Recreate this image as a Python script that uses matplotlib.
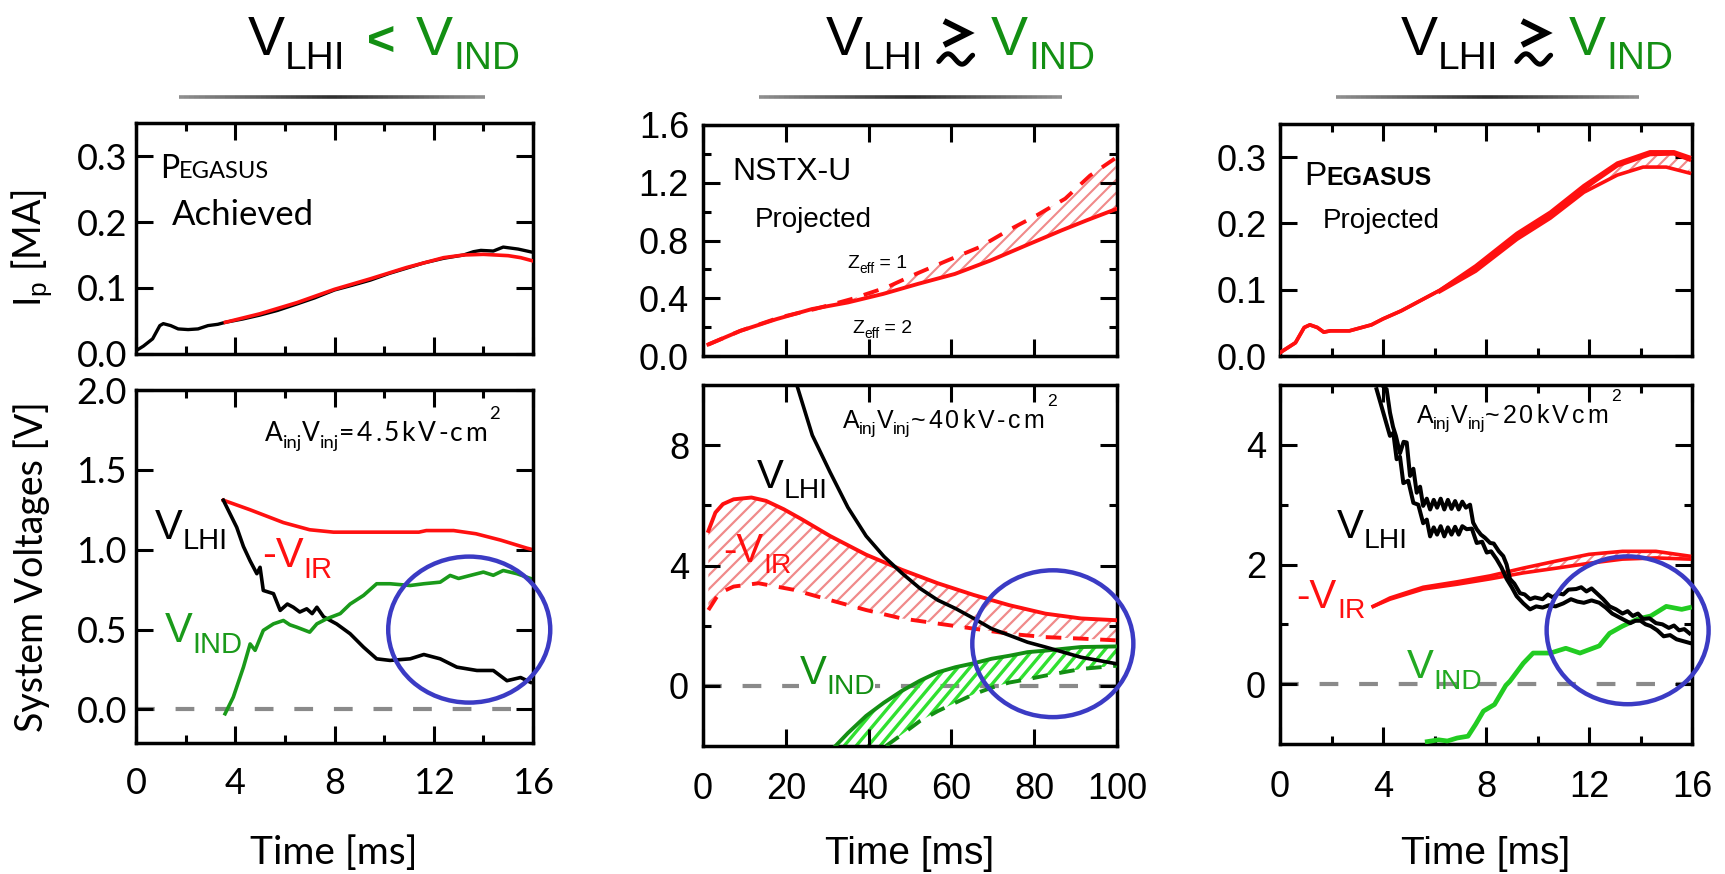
import numpy as np
import matplotlib
matplotlib.use("Agg")
import matplotlib.pyplot as plt
from matplotlib.patches import Ellipse, Polygon
from matplotlib.collections import LineCollection
from matplotlib.lines import Line2D
from matplotlib.transforms import IdentityTransform

plt.rcParams["font.family"] = ["Liberation Sans", "DejaVu Sans"]
plt.rcParams["mathtext.fontset"] = "custom"
plt.rcParams["mathtext.rm"] = "Liberation Sans"
plt.rcParams["mathtext.it"] = "Liberation Sans:italic"
plt.rcParams["mathtext.bf"] = "Liberation Sans:bold"

W, H = 1725, 874
PT = 100 / 72  # pixels per point

# ---------------- Panel 1: PEGASUS achieved ----------------
p1_ip_t = [0.0, 0.3, 0.67, 0.96, 1.1, 1.4, 1.7, 2.1, 2.5, 2.9, 3.3, 3.6, 4.3, 5.0, 5.7,
           6.5, 7.2, 8.0, 8.7, 9.45, 10.2, 10.9, 11.6, 12.4, 13.2, 13.6, 13.9, 14.4,
           14.8, 15.4, 16.0]
p1_ip_exp = [0.005, 0.012, 0.023, 0.043, 0.046, 0.043, 0.038, 0.037, 0.038, 0.043, 0.045,
             0.048, 0.053, 0.059, 0.066, 0.076, 0.085, 0.097, 0.104, 0.112, 0.122, 0.130,
             0.138, 0.145, 0.150, 0.155, 0.157, 0.156, 0.162, 0.159, 0.154]
p1_ip_mod_t = [3.6, 5.0, 6.5, 8.0, 9.45, 10.9, 12.4, 13.2, 14.0, 15.0, 15.5, 16.0]
p1_ip_mod = [0.048, 0.061, 0.078, 0.098, 0.114, 0.131, 0.146, 0.150, 0.151, 0.149, 0.146, 0.141]

p1_vir_t = [3.52, 4.6, 5.94, 7.0, 7.96, 9.97, 11.4, 11.7, 12.8, 13.7, 14.7, 15.75, 16.0]
p1_vir = [1.31, 1.25, 1.17, 1.125, 1.11, 1.11, 1.11, 1.12, 1.12, 1.10, 1.06, 1.01, 1.00]

p1_vlhi_t = [3.52, 3.79, 4.06, 4.33, 4.6, 4.87, 5.0, 5.13, 5.54, 5.81, 6.1, 6.34, 6.6,
             6.88, 7.1, 7.29, 7.56, 8.09, 8.63, 9.17, 9.7, 10.24, 11.05, 11.6, 12.26,
             12.93, 13.74, 14.4, 14.95, 15.5, 15.9]
p1_vlhi = [1.31, 1.225, 1.14, 1.02, 0.93, 0.85, 0.89, 0.745, 0.725, 0.62, 0.66, 0.64, 0.61,
           0.63, 0.60, 0.64, 0.58, 0.535, 0.474, 0.39, 0.317, 0.307, 0.317, 0.344, 0.317,
           0.265, 0.244, 0.244, 0.18, 0.20, 0.17]

p1_vind_t = [3.59, 3.92, 4.33, 4.6, 4.8, 5.13, 5.54, 5.94, 6.2, 6.48, 7.0, 7.29, 7.69,
             8.23, 8.63, 9.17, 9.7, 10.24, 11.05, 11.6, 12.26, 12.66, 13.0, 13.47, 14.0,
             14.4, 14.8, 15.35, 15.9]
p1_vind = [-0.027, 0.077, 0.265, 0.41, 0.37, 0.495, 0.536, 0.557, 0.53, 0.515, 0.484,
           0.536, 0.568, 0.60, 0.66, 0.714, 0.787, 0.787, 0.776, 0.787, 0.797, 0.839,
           0.82, 0.839, 0.86, 0.84, 0.87, 0.85, 0.82]

# ---------------- Panel 2: NSTX-U projected ----------------
p2_ip_z2_t = [1.3, 9, 17.7, 26.3, 35, 43.5, 52, 60.8, 69.4, 78, 86.6, 92.7, 100]
p2_ip_z2 = [0.08, 0.174, 0.255, 0.325, 0.371, 0.43, 0.50, 0.568, 0.661, 0.766, 0.87, 0.94, 1.02]
p2_ip_z1_t = [1.3, 9, 18.5, 27, 35.8, 44.4, 51, 59, 66.8, 73.7, 80.6, 87.5, 93.5, 99.6]
p2_ip_z1 = [0.08, 0.174, 0.267, 0.325, 0.394, 0.476, 0.563, 0.661, 0.754, 0.87, 0.974,
            1.09, 1.25, 1.37]

p2_vlhi_t = [22.5, 26.4, 30.7, 35, 39.4, 43.7, 48, 52.4, 56.7, 61, 65.4, 69.7, 74, 78.4,
             82.7, 87, 91.3, 95.7, 100]
p2_vlhi = [10.07, 8.33, 7.1, 5.93, 4.98, 4.3, 3.75, 3.24, 2.85, 2.57, 2.24, 1.9, 1.68,
           1.45, 1.29, 1.12, 0.95, 0.84, 0.73]
p2_vir_hi_t = [1.3, 3, 4.8, 7.4, 11.7, 15.2, 19.5, 23.8, 30.7, 39.4, 48, 56.7, 65.4, 74,
               82.7, 91.3, 100]
p2_vir_hi = [5.15, 5.76, 6.04, 6.2, 6.26, 6.15, 5.87, 5.54, 4.98, 4.36, 3.86, 3.41, 3.02,
             2.68, 2.4, 2.24, 2.18]
p2_vir_lo_t = [1.3, 3.9, 7.4, 13.4, 22, 30.7, 39.4, 48, 56.7, 65.4, 74, 82.7, 91.3, 100]
p2_vir_lo = [2.52, 3.08, 3.3, 3.41, 3.19, 2.85, 2.52, 2.24, 2.07, 1.9, 1.73, 1.62, 1.57, 1.51]
p2_vind_hi_t = [32, 35, 39.4, 43.7, 48, 52.4, 56.7, 61, 65.4, 69.7, 74, 78.4, 82.7, 91.3, 100]
p2_vind_hi = [-2.0, -1.57, -1.0, -0.56, -0.17, 0.17, 0.45, 0.62, 0.75, 0.9, 1.0, 1.12,
              1.17, 1.29, 1.31]
p2_vind_lo_t = [44.2, 48, 52.4, 56.7, 61, 65.4, 69.7, 74, 78.4, 82.7, 87, 91.3, 100]
p2_vind_lo = [-2.0, -1.62, -1.17, -0.84, -0.56, -0.28, -0.06, 0.11, 0.22, 0.34, 0.45,
              0.56, 0.67]

# ---------------- Panel 3: PEGASUS projected ----------------
p3_ip_t = [0, 0.6, 0.94, 1.16, 1.45, 1.7, 1.96, 2.7, 3.55, 4.0, 4.7, 6.2, 7.6, 9.2,
           10.5, 11.8, 13.1, 14.37, 15.3, 15.9]
p3_ip_a = [0.005, 0.02, 0.043, 0.047, 0.043, 0.036, 0.038, 0.038, 0.047, 0.056, 0.068,
           0.099, 0.136, 0.185, 0.217, 0.257, 0.291, 0.308, 0.308, 0.300]
p3_ip_b = [0.005, 0.02, 0.043, 0.047, 0.043, 0.036, 0.038, 0.038, 0.047, 0.056, 0.068,
           0.099, 0.133, 0.181, 0.212, 0.252, 0.287, 0.304, 0.305, 0.296]
p3_ip_c_t = [6.2, 7.6, 9.2, 10.5, 11.8, 13.1, 14.1, 15.0, 15.9]
p3_ip_c = [0.097, 0.128, 0.176, 0.208, 0.247, 0.273, 0.285, 0.285, 0.276]

p3_vlhi_a_t = [3.95, 4.14, 4.27, 4.39, 4.5, 4.66, 4.8, 4.92, 5.05, 5.18, 5.31, 5.44, 5.56,
               5.7, 5.83, 5.97, 6.1, 6.24, 6.38, 6.52, 6.66, 6.8, 6.94, 7.08, 7.22, 7.38,
               7.5, 7.64, 7.8, 7.95, 8.16, 8.3, 8.5, 8.67, 8.8, 8.93, 9.1, 9.32, 9.5,
               9.71, 9.9, 10.2, 10.4, 10.6, 10.8, 11.0, 11.2, 11.5, 11.7, 11.9, 12.1,
               12.3, 12.55, 12.8, 13.05, 13.3, 13.5, 13.7, 13.9, 14.1, 14.35, 14.6,
               14.85, 15.1, 15.3, 15.5, 15.7, 15.9]
p3_vlhi_a = [5.0, 4.93, 4.54, 4.3, 4.15, 3.86, 4.05, 4.04, 3.48, 3.6, 3.2, 3.3, 2.98, 3.1,
             2.92, 3.08, 2.95, 3.1, 2.92, 3.08, 2.93, 3.06, 2.92, 3.05, 2.95, 3.0, 2.7,
             2.59, 2.5, 2.45, 2.36, 2.35, 2.22, 2.14, 2.0, 1.76, 1.68, 1.52, 1.5, 1.42,
             1.45, 1.42, 1.5, 1.45, 1.52, 1.5, 1.58, 1.59, 1.62, 1.55, 1.6, 1.52, 1.42,
             1.3, 1.25, 1.18, 1.22, 1.14, 1.18, 1.09, 1.1, 1.02, 1.0, 0.94, 0.98, 0.9,
             0.92, 0.85]
p3_vlhi_b_t = [3.75, 4.01, 4.27, 4.4, 4.53, 4.66, 4.79, 4.98, 5.18, 5.37, 5.56, 5.7, 5.83,
               5.97, 6.1, 6.24, 6.38, 6.52, 6.66, 6.8, 6.94, 7.08, 7.25, 7.45, 7.64,
               7.85, 8.03, 8.2, 8.41, 8.6, 8.8, 9.0, 9.19, 9.45, 9.71, 9.95, 10.2, 10.45,
               10.7, 11.0, 11.3, 11.55, 11.8, 12.1, 12.4, 12.65, 12.9, 13.25, 13.6, 13.8,
               14.0, 14.2, 14.4, 14.65, 14.9, 15.15, 15.4, 15.65, 15.9]
p3_vlhi_b = [4.93, 4.54, 4.15, 4.2, 3.76, 3.8, 3.36, 3.4, 3.03, 3.0, 2.69, 2.75, 2.47, 2.62,
             2.5, 2.64, 2.47, 2.62, 2.5, 2.63, 2.5, 2.64, 2.59, 2.6, 2.36, 2.38, 2.2,
             2.22, 2.09, 1.95, 1.76, 1.62, 1.47, 1.35, 1.25, 1.3, 1.28, 1.32, 1.3, 1.35,
             1.42, 1.38, 1.36, 1.4, 1.36, 1.28, 1.18, 1.1, 1.02, 1.06, 1.06, 1.0, 0.97,
             0.9, 0.80, 0.82, 0.75, 0.72, 0.69]
p3_vir_t = [3.62, 4.27, 5.56, 6.87, 8.16, 9.45, 10.75, 12.0, 13.3, 14.6, 15.9]
p3_vir_lo = [1.30, 1.42, 1.59, 1.67, 1.76, 1.86, 1.94, 2.02, 2.09, 2.11, 2.09]
p3_vir_hi = [1.30, 1.44, 1.62, 1.71, 1.81, 1.94, 2.06, 2.17, 2.22, 2.22, 2.14]
p3_vind_t = [5.72, 6.16, 6.5, 6.88, 7.3, 7.6, 7.9, 8.33, 8.77, 8.93, 9.45, 9.83, 10.5,
             11.1, 11.65, 12.4, 12.8, 13.3, 13.9, 14.4, 15.0, 15.6, 15.9]
p3_vind = [-0.96, -0.93, -0.95, -0.9, -0.87, -0.67, -0.45, -0.34, -0.02, 0.05, 0.35, 0.52,
           0.52, 0.60, 0.52, 0.64, 0.85, 0.97, 1.09, 1.14, 1.30, 1.25, 1.28]

# ticks
ms16_major = [0, 4, 8, 12, 16]
ms16_labels = ["0", "4", "8", "12", "16"]
ms16_minor = [2, 6, 10, 14]
ms100_major = [0, 20, 40, 60, 80, 100]
ms100_labels = ["0", "20", "40", "60", "80", "100"]
ip_peg_ticks = [0.0, 0.1, 0.2, 0.3]
ip_peg_labels = ["0.0", "0.1", "0.2", "0.3"]
ip_nstx_ticks = [0.0, 0.4, 0.8, 1.2, 1.6]
ip_nstx_labels = ["0.0", "0.4", "0.8", "1.2", "1.6"]
ip_nstx_minor = [0.2, 0.6, 1.0, 1.4]
v1_ticks = [0.0, 0.5, 1.0, 1.5, 2.0]
v1_labels = ["0.0", "0.5", "1.0", "1.5", "2.0"]
v2_ticks = [0, 4, 8]
v2_labels = ["0", "4", "8"]
v2_minor = [2, 6]
v3_ticks = [0, 2, 4]
v3_labels = ["0", "2", "4"]
v3_minor = [1, 3]

# blue circles: centre t, centre V, width, height
circles = {
    "p1": (13.43, 0.50, 6.53, 0.914),
    "p2": (84.5, 1.40, 38.9, 4.88),
    "p3": (13.5, 0.90, 6.29, 2.47),
}

RED = "#ff1010"
BLUE = "#3b3bc4"
GREEN = "#138f13"
GREEN_L = "#22cc22"
GRAY = "#8a8a8a"
HATCH_RED = "#f08a8a"
HATCH_GREEN = "#30e030"


def rect(l, t, r, b):
    """Axes rectangle from pixel edges."""
    return [l / W, 1 - b / H, (r - l) / W, (b - t) / H]


def style(ax, xlim, ylim, xt, xtl, xminor, yt, ytl, yminor, font, xpad, ypad, xlabels=True):
    ax.set_xlim(*xlim)
    ax.set_ylim(*ylim)
    ax.set_xticks(xt, labels=xtl, fontsize=26, fontfamily=font)
    ax.set_yticks(yt, labels=ytl, fontsize=26, fontfamily=font)
    if xminor:
        ax.set_xticks(xminor, minor=True)
    if yminor:
        ax.set_yticks(yminor, minor=True)
    ax.tick_params(which="both", direction="in", top=True, right=True, width=2.2)
    ax.tick_params(which="major", length=12)
    ax.tick_params(which="minor", length=6)
    ax.tick_params(axis="x", pad=xpad, labelbottom=xlabels)
    ax.tick_params(axis="y", pad=ypad)
    for s in ax.spines.values():
        s.set_linewidth(2.5)


def hatch_between(ax, t_a, v_a, t_b, v_b, color, spacing, lw, angle=45):
    """Diagonal hatch lines clipped to the band between two curves."""
    xs = np.concatenate([np.asarray(t_a, float), np.asarray(t_b, float)[::-1]])
    ys = np.concatenate([np.asarray(v_a, float), np.asarray(v_b, float)[::-1]])
    poly = Polygon(np.column_stack([xs, ys]), closed=True, transform=ax.transData)
    bb = ax.bbox
    run = bb.height / np.tan(np.radians(angle))
    x0s = np.arange(bb.x0 - run - spacing, bb.x1 + spacing, spacing)
    segs = [[(x0, bb.y0), (x0 + run, bb.y1)] for x0 in x0s]
    lc = LineCollection(segs, colors=color, linewidths=lw, transform=IdentityTransform(),
                        zorder=1)
    lc.set_clip_path(poly)
    ax.add_collection(lc, autolim=False)


def zero_line(ax):
    ax.axhline(0, color=GRAY, lw=3, dashes=(4.5, 5), zorder=0.5)


def add_circle(ax, key):
    t, v, w, h = circles[key]
    ax.add_patch(Ellipse((t, v), w, h, fill=False, ec=BLUE, lw=3.2,
                         clip_on=False, zorder=10))


def rich(fig, x, y, pieces, size, family="Liberation Sans", color="black", **kw):
    """Write text pieces one after another from display point (x, y) on the baseline.
    Each piece is (text, scale, rise_in_em[, weight[, tracking_px]])."""
    r = fig.canvas.get_renderer()
    for p in pieces:
        txt, scale, rise = p[:3]
        weight = p[3] if len(p) > 3 else "normal"
        track = p[4] if len(p) > 4 else 0
        chunks = list(txt) if track else [txt]
        for ch in chunks:
            t = fig.text(x, y + rise * size * PT, ch, fontsize=size * scale, family=family,
                         color=color, fontweight=weight, transform=IdentityTransform(),
                         va="baseline", ha="left", **kw)
            x = t.get_window_extent(r).x1 + track
    return x


def label(fig, ax, t, v, pieces, size, **kw):
    x, y = ax.transData.transform((t, v))
    rich(fig, x, y, pieces, size, **kw)


def sub(main, s):
    return [(main, 1, 0), (s, 0.7, -0.26)]


def ainj(tail, sup, track):
    return [("A", 1, 0), ("inj", 0.7, -0.26), ("V", 1, 0), ("inj", 0.7, -0.26),
            (tail, 1, 0, "normal", track), (sup, 0.7, 0.85)]


def title(fig, x1, x3):
    y = H - 55
    rich(fig, x1, y, sub("V", "LHI"), 40)
    rich(fig, x3, y, sub("V", "IND"), 40, color=GREEN)


def gtrsim(fig, xl):
    """Draw a bold 'greater than or similar' sign with its left edge at xl (pixels)."""
    chev_x = [xl + 4, xl + 28, xl + 4]
    chev_y = [H - 21, H - 33, H - 45]
    fig.add_artist(Line2D(chev_x, chev_y, color="black", lw=4.3,
                          solid_joinstyle="miter", solid_capstyle="butt",
                          transform=IdentityTransform()))
    ph = np.linspace(-0.08, 1.13, 40)
    tx = xl + 8 + 28 * (ph - 0.25)
    ty = H - (59 - 5.2 * np.sin(2 * np.pi * ph))
    fig.add_artist(Line2D(tx, ty, color="black", lw=3.6, solid_capstyle="round",
                          transform=IdentityTransform()))


def grad_line(fig, x0, x1, y=97):
    n = 60
    xs = np.linspace(x0, x1, n + 1) / W
    segs = [[(xs[i], 1 - y / H), (xs[i + 1], 1 - y / H)] for i in range(n)]
    s = np.linspace(0, 1, n)
    g = 0.56 - 0.38 * (1 - np.abs(2 * s - 1))
    cols = [(v, v, v) for v in g]
    fig.add_artist(LineCollection(segs, colors=cols, linewidths=2.6,
                                  transform=fig.transFigure))


def main():
    fig = plt.figure(figsize=(W / 100, H / 100), dpi=100)

    # ---- panel 1 ----
    a1 = fig.add_axes(rect(136, 123, 533, 354))
    b1 = fig.add_axes(rect(136, 390, 533, 743))
    style(a1, (0, 16), (0, 0.35), ms16_major, ms16_labels, ms16_minor,
          ip_peg_ticks, ip_peg_labels, None, "Lato", 17, 6.5, xlabels=False)
    style(b1, (0, 16), (-0.21, 2.0), ms16_major, ms16_labels, ms16_minor,
          v1_ticks, v1_labels, None, "Lato", 17, 6.5)
    a1.plot(p1_ip_t, p1_ip_exp, color="black", lw=2.4, zorder=3)
    a1.plot(p1_ip_mod_t, p1_ip_mod, color=RED, lw=2.6, zorder=4)
    x, y = a1.transAxes.transform((0.06, 0.762))
    rich(fig, x, y, [("P", 1, 0), ("EGASUS", 0.74, 0)], 23, family="Lato")
    a1.text(0.09, 0.558, "Achieved", fontsize=25, family="Lato", transform=a1.transAxes)

    zero_line(b1)
    b1.plot(p1_vir_t, p1_vir, color=RED, lw=2.6)
    b1.plot(p1_vlhi_t, p1_vlhi, color="black", lw=2.6)
    b1.plot(p1_vind_t, p1_vind, color="#1a9a1a", lw=2.6)
    label(fig, b1, 0.77, 1.07, sub("V", "LHI"), 30)
    label(fig, b1, 5.07, 0.89, sub("-V", "IR"), 30, color=RED)
    label(fig, b1, 1.17, 0.42, sub("V", "IND"), 30, color="#1a9a1a")
    label(fig, b1, 5.2, 1.68, ainj("=4.5kV-cm", "2", 2.5), 19, family="Lato")
    add_circle(b1, "p1")
    fig.text(32 / W, 1 - 248 / H, r"$\mathrm{I}_{\mathrm{p}}$ [MA]", rotation=90,
             fontsize=27, family="Lato", ha="center", va="center")
    fig.text(32 / W, 1 - 567 / H, "System Voltages [V]", rotation=90, fontsize=27,
             family="Lato", ha="center", va="center")
    fig.text(334 / W, 1 - 864 / H, "Time [ms]", fontsize=28, family="Lato",
             ha="center", va="baseline")

    # ---- panel 2 ----
    a2 = fig.add_axes(rect(703, 125, 1117, 356))
    b2 = fig.add_axes(rect(703, 385, 1117, 746))
    style(a2, (0, 100), (0, 1.6), ms100_major, ms100_labels, None,
          ip_nstx_ticks, ip_nstx_labels, ip_nstx_minor, "Liberation Sans", 19, 10,
          xlabels=False)
    style(b2, (0, 100), (-2, 10), ms100_major, ms100_labels, None,
          v2_ticks, v2_labels, v2_minor, "Liberation Sans", 19, 10)
    hatch_between(a2, p2_ip_z1_t, p2_ip_z1, p2_ip_z2_t, p2_ip_z2, HATCH_RED, 13, 1.5)
    a2.plot(p2_ip_z2_t, p2_ip_z2, color=RED, lw=2.8, zorder=3)
    a2.plot(p2_ip_z1_t, p2_ip_z1, color=RED, lw=2.8, dashes=(4, 3), zorder=3)
    a2.text(0.07, 0.76, "NSTX-U", fontsize=23, transform=a2.transAxes)
    a2.text(0.126, 0.558, "Projected", fontsize=20, transform=a2.transAxes)
    label(fig, a2, 34.8, 0.61, sub("Z", "eff") + [(" = 1", 1, 0)], 14)
    label(fig, a2, 36.0, 0.16, sub("Z", "eff") + [(" = 2", 1, 0)], 14)

    zero_line(b2)
    hatch_between(b2, p2_vir_hi_t, p2_vir_hi, p2_vir_lo_t, p2_vir_lo, HATCH_RED, 14, 1.6)
    hatch_between(b2, p2_vind_hi_t, p2_vind_hi, p2_vind_lo_t, p2_vind_lo, HATCH_GREEN,
                  12, 2.4, angle=50)
    b2.plot(p2_vir_hi_t, p2_vir_hi, color=RED, lw=2.8, zorder=3)
    b2.plot(p2_vir_lo_t, p2_vir_lo, color=RED, lw=2.8, dashes=(4, 3), zorder=3)
    b2.plot(p2_vind_hi_t, p2_vind_hi, color=GREEN, lw=2.8, zorder=3)
    b2.plot(p2_vind_lo_t, p2_vind_lo, color=GREEN, lw=2.8, dashes=(4, 3), zorder=3)
    b2.plot(p2_vlhi_t, p2_vlhi, color="black", lw=2.6, zorder=4)
    label(fig, b2, 13.0, 6.59, sub("V", "LHI"), 29)
    label(fig, b2, 4.8, 4.1, sub("-V", "IR"), 29, color=RED)
    label(fig, b2, 23.3, 0.07, sub("V", "IND"), 29, color=GREEN,
          bbox=dict(fc="white", ec="none", pad=0), zorder=2.5)
    label(fig, b2, 33.7, 8.58, ainj("~40kV-cm", "2", 2.9), 18)
    add_circle(b2, "p2")
    fig.text(910 / W, 1 - 864 / H, "Time [ms]", fontsize=28, ha="center", va="baseline")

    # ---- panel 3 ----
    a3 = fig.add_axes(rect(1280, 124, 1692, 356))
    b3 = fig.add_axes(rect(1280, 385, 1692, 744))
    style(a3, (0, 16), (0, 0.35), ms16_major, ms16_labels, ms16_minor,
          ip_peg_ticks, ip_peg_labels, None, "Liberation Sans", 19, 9.5, xlabels=False)
    style(b3, (0, 16), (-1, 5), ms16_major, ms16_labels, ms16_minor,
          v3_ticks, v3_labels, v3_minor, "Liberation Sans", 19, 10)
    tb = np.array(p3_ip_t)
    keep = tb >= 6.2
    hatch_between(a3, tb[keep], np.array(p3_ip_b)[keep], p3_ip_c_t, p3_ip_c,
                  HATCH_RED, 12, 1.5)
    a3.plot(p3_ip_t, p3_ip_a, color=RED, lw=2.6, zorder=3)
    a3.plot(p3_ip_t, p3_ip_b, color=RED, lw=2.6, zorder=3)
    a3.plot(p3_ip_c_t, p3_ip_c, color=RED, lw=2.6, zorder=3)
    x, y = a3.transAxes.transform((0.058, 0.737))
    rich(fig, x, y, [("P", 1, 0), ("EGASUS", 0.75, 0, "bold")], 24)
    a3.text(0.104, 0.55, "Projected", fontsize=20, transform=a3.transAxes)

    zero_line(b3)
    hatch_between(b3, p3_vir_t, p3_vir_hi, p3_vir_t, p3_vir_lo, HATCH_RED, 11, 1.4)
    b3.plot(p3_vir_t, p3_vir_hi, color=RED, lw=2.6, zorder=3)
    b3.plot(p3_vir_t, p3_vir_lo, color=RED, lw=2.6, zorder=3)
    b3.plot(p3_vlhi_a_t, p3_vlhi_a, color="black", lw=2.9, zorder=4)
    b3.plot(p3_vlhi_b_t, p3_vlhi_b, color="black", lw=2.9, zorder=4)
    b3.plot(p3_vind_t, p3_vind, color=GREEN_L, lw=3.4, zorder=3)
    label(fig, b3, 2.2, 2.45, sub("V", "LHI"), 29)
    label(fig, b3, 0.65, 1.28, sub("-V", "IR"), 29, color=RED)
    label(fig, b3, 4.92, 0.10, sub("V", "IND"), 29, color="#22aa22")
    label(fig, b3, 5.31, 4.37, ainj("~20kVcm", "2", 3), 18)
    add_circle(b3, "p3")
    fig.text(1486 / W, 1 - 864 / H, "Time [ms]", fontsize=28, ha="center", va="baseline")

    # ---- titles ----
    title(fig, 248, 416)
    fig.text(367, H - 55, "<", fontsize=35, color=GREEN, fontweight="bold",
             transform=IdentityTransform(), va="baseline")
    title(fig, 826, 991)
    gtrsim(fig, 940)
    title(fig, 1401, 1569)
    gtrsim(fig, 1518)
    grad_line(fig, 179, 485)
    grad_line(fig, 759, 1062)
    grad_line(fig, 1336, 1639)

    fig.savefig("out.png", dpi=100)


if __name__ == "__main__":
    main()
